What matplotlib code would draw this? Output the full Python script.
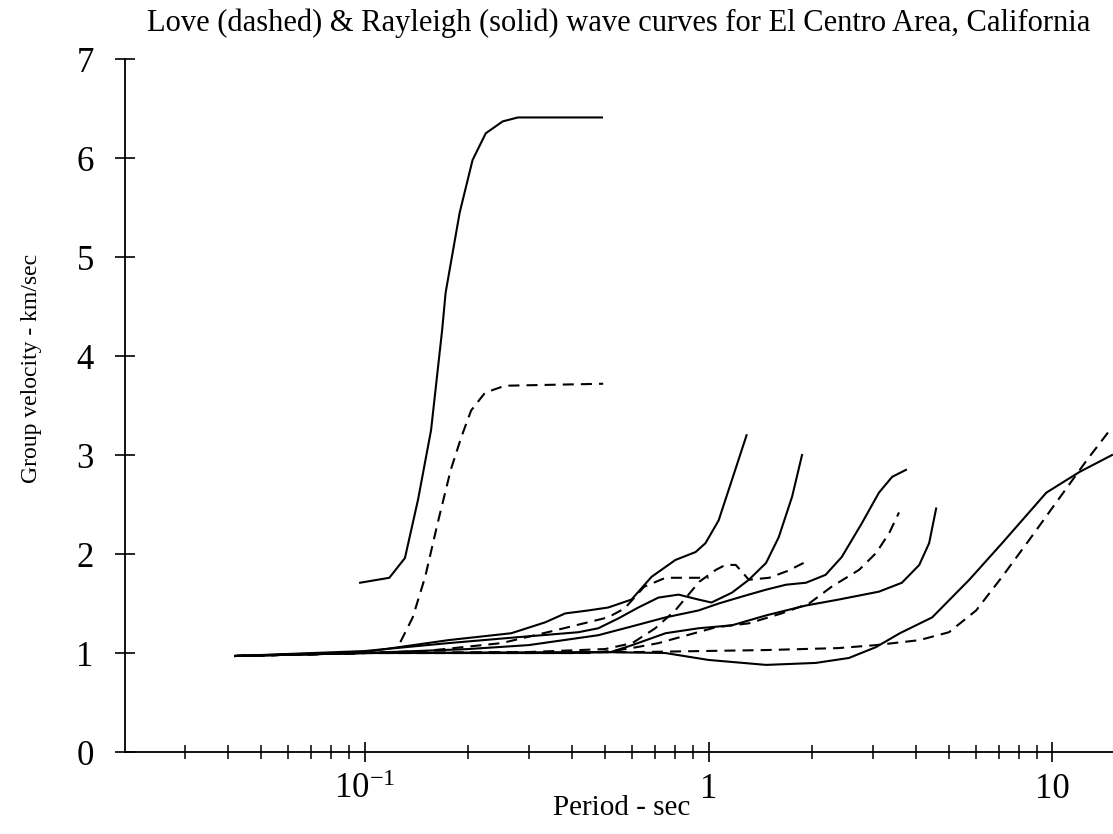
import numpy as np
import matplotlib
matplotlib.use("Agg")
import matplotlib.pyplot as plt
from matplotlib.ticker import LogLocator, NullFormatter

plt.rcParams['font.family'] = ['Liberation Serif', 'DejaVu Serif']
plt.rcParams['mathtext.fontset'] = 'custom'
plt.rcParams['mathtext.rm'] = 'Liberation Serif'

# Rayleigh (solid) curves: period (s), group velocity (km/s)
r1_per = [0.097, 0.118, 0.131, 0.143, 0.156, 0.168, 0.172, 0.189, 0.206, 0.225, 0.252, 0.279, 0.49]
r1_vel = [1.71, 1.76, 1.96, 2.55, 3.25, 4.26, 4.64, 5.45, 5.98, 6.25, 6.37, 6.41, 6.41]

r2_per = [0.042, 0.1, 0.175, 0.267, 0.335, 0.383, 0.447, 0.511, 0.597, 0.683, 0.801, 0.917, 0.98, 1.07, 1.17, 1.29]
r2_vel = [0.97, 1.01, 1.13, 1.20, 1.31, 1.40, 1.43, 1.46, 1.54, 1.77, 1.94, 2.02, 2.11, 2.34, 2.75, 3.20]

r3_per = [0.042, 0.1, 0.175, 0.279, 0.418, 0.478, 0.547, 0.625, 0.715, 0.818, 0.935, 1.02, 1.17, 1.31, 1.47, 1.60, 1.75, 1.87]
r3_vel = [0.97, 1.02, 1.10, 1.16, 1.21, 1.25, 1.35, 1.46, 1.56, 1.59, 1.54, 1.51, 1.61, 1.74, 1.91, 2.17, 2.58, 3.00]

r4_per = [0.042, 0.1, 0.2, 0.3, 0.478, 0.6, 0.75, 0.935, 1.07, 1.25, 1.47, 1.68, 1.92, 2.19, 2.44, 2.79, 3.13, 3.42, 3.75]
r4_vel = [0.97, 1.0, 1.04, 1.08, 1.18, 1.27, 1.36, 1.43, 1.50, 1.57, 1.64, 1.69, 1.71, 1.79, 1.97, 2.31, 2.62, 2.78, 2.85]

r5_per = [0.042, 0.1, 0.4, 0.52, 0.6, 0.75, 0.935, 1.17, 1.47, 1.92, 2.39, 3.13, 3.65, 4.10, 4.38, 4.59]
r5_vel = [0.97, 1.0, 1.0, 1.01, 1.08, 1.20, 1.25, 1.28, 1.38, 1.48, 1.54, 1.62, 1.71, 1.89, 2.11, 2.46]

r6_per = [0.042, 0.1, 0.478, 0.749, 1.0, 1.47, 2.05, 2.56, 3.07, 3.6, 4.47, 5.73, 7.14, 9.6, 12.0, 14.9]
r6_vel = [0.97, 1.0, 1.01, 1.0, 0.93, 0.88, 0.90, 0.95, 1.06, 1.20, 1.36, 1.74, 2.11, 2.62, 2.83, 3.00]

# Love (dashed) curves
l1_per = [0.127, 0.138, 0.150, 0.163, 0.178, 0.191, 0.204, 0.224, 0.256, 0.494]
l1_vel = [1.11, 1.36, 1.77, 2.31, 2.85, 3.18, 3.45, 3.63, 3.70, 3.72]

l2_per = [0.042, 0.1, 0.3, 0.5, 0.6, 0.7, 0.8, 0.94, 1.05, 1.12, 1.2, 1.31, 1.5, 1.7, 1.89]
l2_vel = [0.97, 1.0, 1.01, 1.04, 1.10, 1.25, 1.43, 1.72, 1.84, 1.89, 1.89, 1.74, 1.76, 1.83, 1.91]

l3_per = [0.042, 0.1, 0.15, 0.25, 0.35, 0.51, 0.57, 0.65, 0.75, 0.94, 1.0]
l3_vel = [0.97, 1.0, 1.02, 1.10, 1.22, 1.36, 1.45, 1.67, 1.76, 1.76, 1.76]

l5_per = [0.042, 0.1, 0.45, 0.55, 0.62, 0.715, 1.05, 1.31, 1.63, 1.96, 2.28, 2.74, 3.07, 3.35, 3.58]
l5_vel = [0.97, 1.0, 1.0, 1.03, 1.06, 1.10, 1.26, 1.30, 1.40, 1.50, 1.67, 1.84, 2.01, 2.21, 2.42]

l6_per = [0.042, 0.1, 0.625, 1.47, 2.39, 3.07, 4.10, 5.0, 6.0, 7.14, 8.55, 10.4, 12.6, 14.9]
l6_vel = [0.97, 1.0, 1.01, 1.03, 1.05, 1.08, 1.13, 1.21, 1.43, 1.77, 2.14, 2.55, 2.95, 3.28]

rayleigh = [(r1_per, r1_vel), (r2_per, r2_vel), (r3_per, r3_vel),
            (r4_per, r4_vel), (r5_per, r5_vel), (r6_per, r6_vel)]
love = [(l1_per, l1_vel), (l2_per, l2_vel), (l3_per, l3_vel),
        (l5_per, l5_vel), (l6_per, l6_vel)]

fig = plt.figure(figsize=(11.13, 8.34), dpi=100)
ax = fig.add_axes([0.1123, 0.0983, 0.8877, 0.8309])

for per, vel in rayleigh:
    ax.plot(per, vel, color='black', lw=1.5, solid_joinstyle='round')
for per, vel in love:
    ax.plot(per, vel, color='black', lw=1.5, dashes=(5.3, 3.4))

ax.set_xscale('log')
ax.set_xlim(0.0201, 15)
ax.set_ylim(0, 7)

ax.spines['top'].set_visible(False)
ax.spines['right'].set_visible(False)
for s in ['left', 'bottom']:
    ax.spines[s].set_linewidth(1.3)

ax.set_yticks(range(8))
ax.set_xticks([0.1, 1, 10], labels=[r'$\mathregular{10^{-1}}$', '1', '10'])
ax.xaxis.set_minor_locator(LogLocator(base=10, subs=range(2, 10)))
ax.xaxis.set_minor_formatter(NullFormatter())

ax.tick_params(which='major', direction='inout', length=15, width=1.2, labelsize=25)
ax.tick_params(which='minor', direction='inout', length=9.5, width=1.1)
ax.tick_params(axis='y', pad=15)
ax.tick_params(axis='x', pad=7.5)

ax.set_title('Love (dashed) & Rayleigh (solid) wave curves for El Centro Area, California',
             fontsize=22, pad=20)
ax.set_xlabel('Period - sec', fontsize=21)
ax.set_ylabel('Group velocity - km/sec', fontsize=17)
ax.xaxis.set_label_coords(0.503, -0.062)
ax.yaxis.set_label_coords(-0.084, 0.554)

fig.savefig('out.png', dpi=100)
